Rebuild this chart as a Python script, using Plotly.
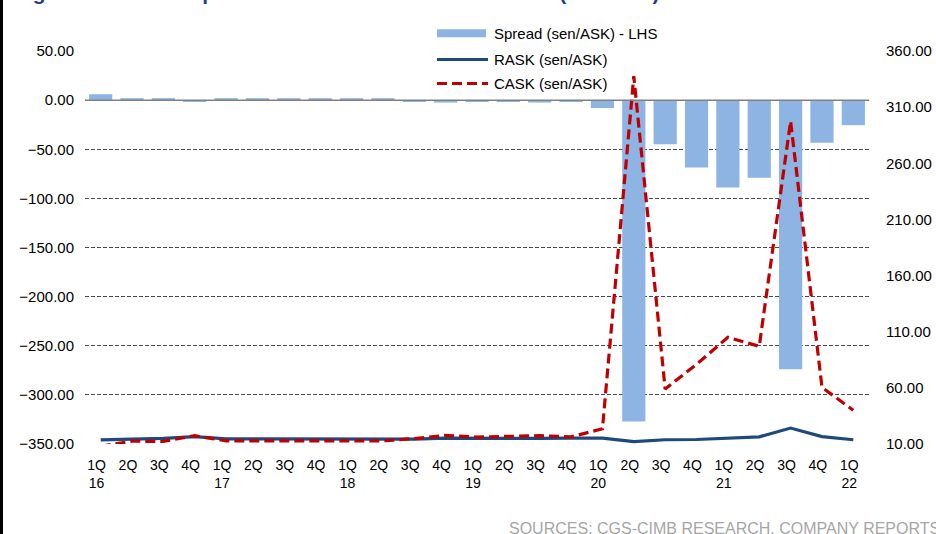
import plotly.graph_objects as go

# Quarterly spread between RASK and CASK, 1Q16 - 1Q22
quarters = ["1Q", "2Q", "3Q", "4Q", "1Q", "2Q", "3Q", "4Q", "1Q", "2Q", "3Q", "4Q",
            "1Q", "2Q", "3Q", "4Q", "1Q", "2Q", "3Q", "4Q", "1Q", "2Q", "3Q", "4Q", "1Q"]
years = ["16", "", "", "", "17", "", "", "", "18", "", "", "", "19", "", "", "",
         "20", "", "", "", "21", "", "", "", "22"]

spread = [6.0, 2.0, 2.0, -1.0, 2.0, 2.0, 2.0, 2.0, 2.0, 2.0, -1.0, -2.5,
          -1.0, -1.0, -2.5, -1.0, -8.0, -327.0, -45.0, -68.5, -89.0, -79.0, -274.0, -43.5, -25.5]
rask = [13.6, 14.2, 15.0, 16.6, 14.6, 14.6, 14.6, 14.6, 14.6, 14.6, 14.4, 15.2,
        15.0, 15.0, 15.0, 15.2, 15.2, 12.2, 13.8, 14.0, 15.0, 16.4, 24.2, 16.6, 13.8]
cask = [8.0, 12.5, 12.3, 17.4, 12.8, 12.8, 12.6, 12.8, 12.8, 12.8, 14.8, 17.6,
        16.2, 16.6, 17.4, 16.4, 23.5, 337.5, 59.0, 81.0, 105.0, 97.0, 297.5, 60.5, 40.0]

names = ["Spread (sen/ASK) - LHS", "RASK (sen/ASK)", "CASK (sen/ASK)"]
left_ticks = [50, 0, -50, -100, -150, -200, -250, -300, -350]
right_ticks = [360, 310, 260, 210, 160, 110, 60, 10]

BAR = "#8DB4E2"
NAVY = "#1F497D"
RED = "#C00000"
GRID = "#4A4A4A"
FONT = "Liberation Sans, Arial, sans-serif"

W, H = 936, 534
L, R, T, B = 85, 67, 51, 90
PW, PH = W - L - R, H - T - B


def px(x):
    return (x - L) / PW


def py(y):
    return (H - B - y) / PH


idx = list(range(len(quarters)))
ticktext = [q + ("<br>" + y if y else "") for q, y in zip(quarters, years)]

fig = go.Figure()
fig.add_trace(go.Bar(x=idx, y=spread, name=names[0], marker_color=BAR,
                     marker_line_width=0, yaxis="y"))
fig.add_trace(go.Scatter(x=idx, y=rask, name=names[1], mode="lines",
                         line=dict(color=NAVY, width=3.2), yaxis="y2"))
fig.add_trace(go.Scatter(x=idx, y=cask, name=names[2], mode="lines",
                         line=dict(color=RED, width=3.2, dash="10px,5px"), yaxis="y2"))

fig.update_layout(
    width=W, height=H,
    margin=dict(l=L, r=R, t=T, b=B, autoexpand=False),
    paper_bgcolor="white", plot_bgcolor="white",
    showlegend=False,
    bargap=0.26,
    font=dict(family=FONT, size=15, color="black"),
    xaxis=dict(
        range=[-0.5, len(idx) - 0.5],
        tickmode="array",
        tickvals=[i - 0.13 for i in idx],
        ticktext=ticktext,
        tickfont=dict(size=14),
        showgrid=False, zeroline=False, showline=False, ticks="",
        ticklabelstandoff=11,
    ),
    yaxis=dict(
        range=[-350, 50],
        tickmode="array", tickvals=left_ticks,
        tickformat=".2f",
        showgrid=True, gridcolor=GRID, gridwidth=1, griddash="4px,2px",
        zeroline=False, showline=False, ticks="",
        ticklabelstandoff=10,
    ),
    yaxis2=dict(
        range=[10, 360], overlaying="y", side="right",
        tickmode="array", tickvals=right_ticks,
        tickformat=".2f",
        showgrid=False, zeroline=False, showline=False, ticks="",
        ticklabelstandoff=16,
    ),
)

# solid zero line of the left axis
fig.add_shape(type="line", xref="paper", yref="y", x0=0, x1=1, y0=0, y1=0,
              line=dict(color="#808080", width=1.5), layer="above")

# legend keys and labels
fig.add_shape(type="rect", xref="paper", yref="paper",
              x0=px(437), x1=px(486), y0=py(37.3), y1=py(29.3),
              fillcolor=BAR, line_width=0)
fig.add_shape(type="line", xref="paper", yref="paper",
              x0=px(437), x1=px(488), y0=py(59.5), y1=py(59.5),
              line=dict(color=NAVY, width=3.2))
fig.add_shape(type="line", xref="paper", yref="paper",
              x0=px(437), x1=px(488), y0=py(83.5), y1=py(83.5),
              line=dict(color=RED, width=3.2, dash="10px,5px"))
for name, yc in zip(names, [34, 59.5, 83.5]):
    fig.add_annotation(text=name, xref="paper", yref="paper", x=px(492), y=py(yc),
                       xanchor="left", yanchor="middle", showarrow=False,
                       font=dict(size=15, color="black"))

# figure title
fig.add_annotation(text="<b>Figure 10: MAA's spread between its RASK and CASK (sen/ASK)</b>",
                   xref="paper", yref="paper", x=px(12), y=py(-7.9),
                   xanchor="left", yanchor="middle", showarrow=False,
                   font=dict(size=21, color="#1F3C93"))

# source note
fig.add_annotation(text="SOURCES: CGS-CIMB RESEARCH, COMPANY REPORTS",
                   xref="paper", yref="paper", x=px(507), y=py(528.9),
                   xanchor="left", yanchor="middle", showarrow=False,
                   font=dict(size=16, color="#A6A6A6"))

# dark edge along the left border
fig.add_shape(type="rect", xref="paper", yref="paper",
              x0=px(-2), x1=px(3), y0=py(H + 2), y1=py(-2),
              fillcolor="black", line_width=0, layer="above")

fig.write_html("out.html")
